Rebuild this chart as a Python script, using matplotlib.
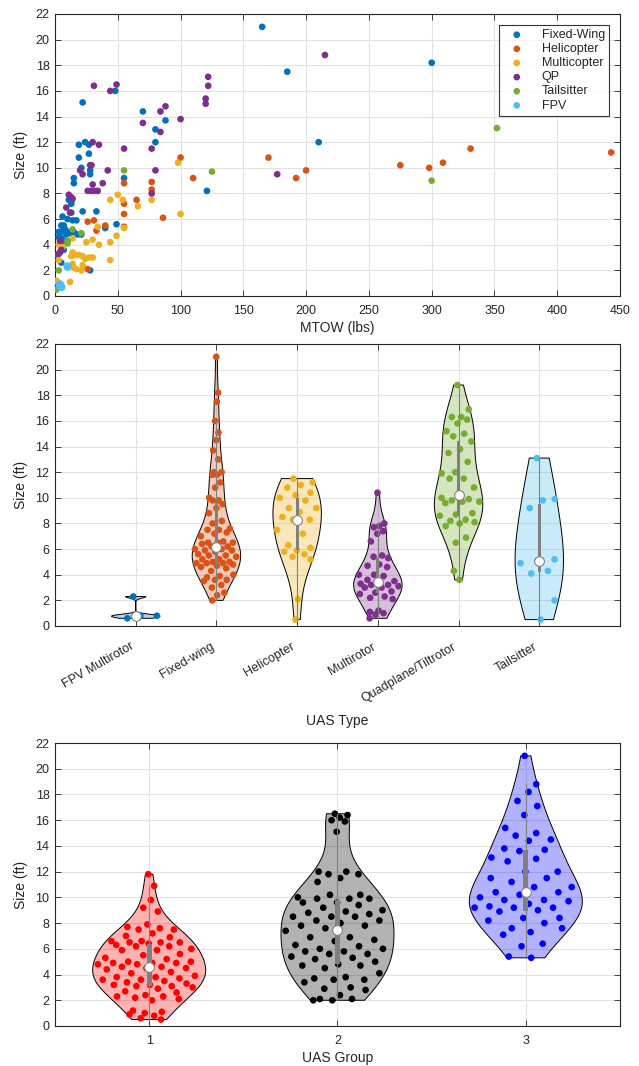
import numpy as np
import matplotlib
matplotlib.use("Agg")
import matplotlib.pyplot as plt
import matplotlib.transforms as mtrans
from matplotlib.patches import Polygon, Rectangle

plt.rcParams['font.family'] = ['Liberation Sans', 'DejaVu Sans']

# ---- top panel: MTOW vs size, by type ----
fw_mtow = [165, 185, 210, 300, 48, 22, 70, 88, 80, 80, 19, 24, 27, 19, 27, 21, 28, 28,
           15, 15, 55, 121, 11, 13, 13, 22, 33, 6, 10, 14, 17, 13, 3, 5, 7, 5, 8, 10,
           12, 15, 18, 21, 40, 49, 3, 5, 7, 9, 2, 4, 7, 5, 28]
fw_size = [21.0, 17.5, 12.0, 18.2, 16.0, 15.1, 14.4, 13.7, 13.0, 12.0, 11.8, 12.0, 11.8,
           10.8, 11.1, 10.0, 9.8, 9.5, 9.2, 8.8, 9.2, 8.2, 7.5, 7.4, 7.2, 6.6, 6.6, 6.2,
           6.0, 5.9, 5.9, 6.5, 5.0, 5.5, 5.5, 5.0, 5.2, 5.0, 4.9, 5.0, 4.8, 4.8, 5.3, 5.6,
           4.6, 4.5, 4.3, 4.8, 3.2, 3.4, 3.6, 2.6, 2.0]
heli_mtow = [170, 192, 200, 275, 298, 309, 331, 443, 100, 110, 77, 77, 55, 65, 55, 55, 86,
             26, 31, 40, 33, 55, 26]
heli_size = [10.8, 9.2, 9.8, 10.2, 10.0, 10.4, 11.5, 11.2, 10.8, 9.2, 8.9, 8.3, 8.8, 7.5,
             7.2, 6.4, 6.1, 5.8, 5.9, 5.5, 5.1, 5.4, 2.1]
multi_mtow = [98, 100, 50, 44, 54, 66, 77, 55, 49, 44, 30, 25, 35, 34, 44, 30, 27, 14, 16,
              19, 22, 24, 13, 15, 21, 22, 14, 12, 17, 6, 3, 1, 2, 5, 14, 3]
multi_size = [10.4, 6.4, 7.9, 7.5, 7.5, 7.0, 7.5, 5.3, 4.7, 4.2, 4.4, 4.2, 4.0, 5.4, 2.8,
              3.0, 3.0, 3.4, 3.2, 3.2, 3.1, 2.9, 3.1, 2.2, 2.0, 2.4, 2.5, 1.1, 2.1, 3.8,
              2.8, 1.2, 1.1, 3.8, 4.5, 4.0]
qp_mtow = [215, 177, 122, 122, 120, 120, 31, 44, 49, 88, 84, 70, 100, 84, 77, 80, 77, 30,
           35, 55, 28, 29, 20, 22, 42, 30, 38, 26, 29, 31, 34, 11, 13, 14, 9, 12, 4, 5, 3]
qp_size = [18.8, 9.5, 17.1, 16.4, 15.4, 15.0, 16.4, 16.0, 16.5, 14.8, 14.4, 13.5, 13.8,
           12.8, 11.5, 9.8, 8.0, 12.0, 11.8, 11.5, 10.2, 10.2, 9.8, 9.5, 9.8, 8.7, 8.8,
           8.2, 8.2, 8.2, 8.2, 7.9, 7.7, 7.6, 6.9, 6.5, 4.3, 3.6, 3.3]
tail_mtow = [352, 300, 125, 55, 21, 14, 10, 10, 3, 1]
tail_size = [13.1, 9.0, 9.7, 9.8, 4.9, 5.2, 4.3, 4.1, 2.0, 0.5]
fpv_mtow = [4, 5, 10, 4]
fpv_size = [0.8, 0.7, 2.3, 0.9]

# ---- middle panel: size by UAS type ----
type_labels = ['FPV Multirotor', 'Fixed-wing', 'Helicopter', 'Multirotor',
               'Quadplane/Tiltrotor', 'Tailsitter']
type_fpv = [2.3, 0.8, 0.8, 0.6]
type_fw = [21.0, 18.2, 17.5, 16.0, 15.1, 14.5, 13.7, 13.0, 12.0, 12.0, 11.8, 11.8, 11.2,
           10.8, 10.0, 9.8, 9.8, 9.5, 9.2, 8.8, 8.2, 8.0, 7.6, 7.5, 7.5, 7.3, 7.2, 7.0,
           6.6, 6.5, 6.5, 6.5, 6.4, 6.2, 6.2, 6.0, 6.0, 5.9, 5.9, 5.8, 5.6, 5.5, 5.5, 5.4,
           5.2, 5.2, 5.0, 5.0, 4.9, 4.9, 4.9, 4.8, 4.7, 4.6, 4.5, 4.3, 4.0, 3.9, 3.8, 3.6,
           3.6, 3.5, 3.2, 3.0, 2.6, 2.4, 2.0]
type_heli = [11.5, 11.2, 11.0, 10.8, 10.4, 10.2, 10.0, 9.8, 9.2, 9.2, 8.9, 8.5, 8.3, 8.3,
             7.5, 7.2, 6.3, 6.1, 5.9, 5.8, 5.6, 5.4, 5.2, 2.1, 0.5]
type_multi = [10.4, 8.0, 7.8, 7.7, 7.4, 7.2, 6.6, 5.5, 5.4, 5.3, 4.8, 4.7, 4.6, 4.0, 4.0,
              3.9, 3.6, 3.5, 3.4, 3.3, 3.2, 3.2, 3.1, 3.0, 3.0, 2.7, 2.6, 2.5, 2.3, 2.2,
              2.1, 1.2, 1.1, 1.0, 0.9, 0.6]
type_qp = [18.8, 16.9, 16.3, 16.3, 16.1, 15.8, 15.2, 15.0, 14.8, 14.4, 13.8, 13.5, 12.8,
           12.0, 11.9, 11.5, 11.5, 10.8, 10.2, 10.0, 9.9, 9.8, 9.7, 9.7, 9.6, 8.8, 8.7,
           8.6, 8.3, 8.2, 8.1, 8.0, 7.8, 6.9, 6.5, 4.3, 3.6]
type_tail = [13.1, 9.9, 9.8, 9.2, 5.2, 5.1, 4.9, 4.3, 4.1, 2.0, 0.5]

# ---- bottom panel: size by UAS group ----
group_labels = ['1', '2', '3']
grp1 = [11.8, 10.9, 9.8, 9.2, 8.9, 7.9, 7.7, 7.6, 7.5, 7.5, 7.2, 7.0, 6.9, 6.6, 6.6, 6.5,
        6.5, 6.5, 6.4, 6.3, 6.2, 6.2, 6.0, 5.9, 5.9, 5.6, 5.5, 5.3, 5.2, 5.0, 5.0, 4.9,
        4.9, 4.9, 4.8, 4.8, 4.6, 4.6, 4.5, 4.5, 4.4, 4.2, 4.1, 3.9, 3.8, 3.8, 3.7, 3.6,
        3.6, 3.5, 3.4, 3.3, 3.2, 3.2, 3.1, 3.1, 3.0, 2.9, 2.7, 2.6, 2.4, 2.3, 2.3, 2.2,
        2.1, 2.0, 1.2, 1.1, 1.0, 0.9, 0.8, 0.6, 0.5]
grp2 = [16.5, 16.4, 16.2, 16.0, 15.9, 15.1, 12.0, 12.0, 11.8, 11.8, 11.5, 11.2, 10.2, 10.2,
        10.0, 9.9, 9.9, 9.9, 9.6, 9.6, 9.4, 9.2, 9.0, 8.9, 8.8, 8.7, 8.5, 8.5, 8.5, 8.2,
        8.2, 8.0, 7.8, 7.8, 7.6, 7.4, 6.9, 6.9, 6.7, 6.6, 6.3, 6.2, 6.0, 6.0, 5.8, 5.8,
        5.6, 5.6, 5.4, 5.3, 5.2, 5.0, 4.8, 4.7, 4.7, 4.5, 4.1, 3.8, 3.7, 3.6, 3.6, 3.4,
        3.0, 2.9, 2.8, 2.4, 2.1, 2.1, 2.0, 2.0]
grp3 = [21.0, 18.8, 18.2, 17.5, 17.1, 16.4, 15.4, 15.0, 14.8, 14.5, 14.4, 13.8, 13.7, 13.6,
        13.1, 13.0, 12.8, 12.0, 12.0, 11.5, 11.5, 11.2, 10.8, 10.8, 10.4, 10.4, 10.2, 10.0,
        9.8, 9.8, 9.7, 9.5, 9.3, 9.2, 9.2, 9.2, 9.0, 8.9, 8.4, 8.4, 8.2, 8.0, 7.6, 7.6,
        7.3, 7.1, 6.4, 6.2, 5.4, 5.3]

C = ['#0072BD', '#D95319', '#EDB120', '#7E2F8E', '#77AC30', '#4DBEEE']
INK = '#262626'


def style(ax):
    ax.set_facecolor('white')
    for s in ax.spines.values():
        s.set_color(INK)
        s.set_linewidth(0.8)
    ax.tick_params(direction='in', length=4, top=True, right=True, colors=INK,
                   labelsize=9, width=0.6, pad=4)
    ax.tick_params(axis='x', pad=6.5)
    ax.grid(True, color='#e2e2e2', linewidth=0.8)
    ax.set_axisbelow(True)


def violin(ax, pos, vals, color, bw=0.028):
    vals = np.asarray(vals, dtype=float)
    n = len(vals)
    med = np.median(vals)
    sig = np.median(np.abs(vals - med)) / 0.6745
    if sig == 0:
        sig = vals.std()
    h = 1.1 * sig * (4.0 / (3.0 * n)) ** 0.2
    yy = np.linspace(vals.min(), vals.max(), 300)
    dens = np.exp(-0.5 * ((yy[:, None] - vals[None, :]) / h) ** 2).sum(axis=1)
    w = 0.3 * dens / dens.max()
    xs = np.concatenate([pos - w, (pos + w)[::-1]])
    ys = np.concatenate([yy, yy[::-1]])
    rgb = matplotlib.colors.to_rgb(color)
    ax.add_patch(Polygon(np.column_stack([xs, ys]), closed=True,
                         facecolor=rgb + (0.3,), edgecolor='black', lw=0.7, zorder=2))
    # spread points inside the violin outline
    wi = np.interp(vals, yy, w)
    u = (np.arange(n) * 0.6180339887 + 0.37) % 1.0
    ax.scatter(pos + (2 * u - 1) * 0.92 * wi, vals, s=23, color=color,
               edgecolors='none', zorder=3)
    q1, q3 = np.percentile(vals, [25, 75])
    iqr = q3 - q1
    lo = vals[vals >= q1 - 1.5 * iqr].min()
    hi = vals[vals <= q3 + 1.5 * iqr].max()
    ax.plot([pos, pos], [lo, hi], color='0.5', lw=0.8, zorder=4)
    ax.add_patch(Rectangle((pos - bw / 2, q1), bw, q3 - q1, facecolor='0.5',
                           edgecolor='none', zorder=4))
    ax.plot(pos, med, 'o', mfc='white', mec='0.5', ms=7, mew=0.8, zorder=5)


fig = plt.figure(figsize=(6.39, 10.66), dpi=100)
W, H = 639.0, 1066.0
ax1 = fig.add_axes([55 / W, (H - 296) / H, 565 / W, 282 / H])
ax2 = fig.add_axes([55 / W, (H - 626) / H, 565 / W, 282 / H])
ax3 = fig.add_axes([55 / W, (H - 1026) / H, 565 / W, 283 / H])

# top scatter
series = [(fw_mtow, fw_size, 'Fixed-Wing', 23), (heli_mtow, heli_size, 'Helicopter', 23),
          (multi_mtow, multi_size, 'Multicopter', 23), (qp_mtow, qp_size, 'QP', 23),
          (tail_mtow, tail_size, 'Tailsitter', 23), (fpv_mtow, fpv_size, 'FPV', 36)]
for (mx, sz, lab, s), col in zip(series, C):
    ax1.scatter(mx, sz, s=s, color=col, edgecolors='none', label=lab, zorder=3)
style(ax1)
ax1.set_xlim(0, 450)
ax1.set_ylim(0, 22)
ax1.set_xticks(np.arange(0, 451, 50))
ax1.set_yticks(np.arange(0, 23, 2))
ax1.set_xlabel('MTOW (lbs)', fontsize=10, color=INK, labelpad=3)
ax1.set_ylabel('Size (ft)', fontsize=10, color=INK, labelpad=5)
leg = ax1.legend(loc='upper right', fontsize=9, frameon=True, fancybox=False,
                 edgecolor='black', borderaxespad=0.85, handlelength=2.2,
                 handletextpad=0.9, labelspacing=0.17, borderpad=0.35,
                 scatterpoints=1)
leg.get_frame().set_linewidth(0.8)
for hnd in leg.legend_handles:
    hnd.set_sizes([23])
for t in leg.get_texts():
    t.set_color(INK)

# middle violins
type_data = [type_fpv, type_fw, type_heli, type_multi, type_qp, type_tail]
for i, (vals, col) in enumerate(zip(type_data, C)):
    violin(ax2, i + 1, vals, col, bw=0.035)
style(ax2)
ax2.set_xlim(0, 7)
ax2.set_ylim(0, 22)
ax2.set_yticks(np.arange(0, 23, 2))
ax2.set_xticks(np.arange(1, 7))
ax2.set_xticklabels(type_labels, rotation=30, ha='right', rotation_mode='anchor')
ax2.tick_params(axis='x', pad=9)
shift = mtrans.ScaledTranslation(-6 / 100, -2 / 100, fig.dpi_scale_trans)
for lab in ax2.get_xticklabels():
    lab.set_transform(lab.get_transform() + shift)
ax2.set_xlabel('UAS Type', fontsize=10, color=INK, labelpad=7)
ax2.set_ylabel('Size (ft)', fontsize=10, color=INK, labelpad=5)

# bottom violins
grp_data = [grp1, grp2, grp3]
for i, (vals, col) in enumerate(zip(grp_data, ['#FF0000', '#000000', '#0000FF'])):
    violin(ax3, i + 1, vals, col, bw=0.028)
style(ax3)
ax3.set_xlim(0.5, 3.5)
ax3.set_ylim(0, 22)
ax3.set_yticks(np.arange(0, 23, 2))
ax3.set_xticks([1, 2, 3])
ax3.set_xticklabels(group_labels)
ax3.set_xlabel('UAS Group', fontsize=10, color=INK, labelpad=3)
ax3.set_ylabel('Size (ft)', fontsize=10, color=INK, labelpad=5)

fig.savefig('out.png', dpi=100)
